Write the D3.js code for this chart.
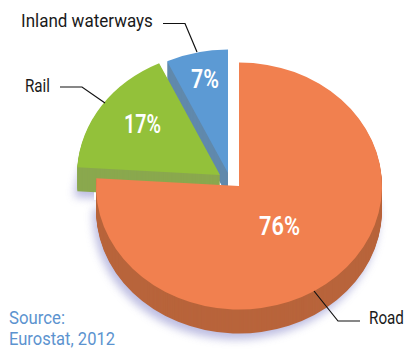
<!DOCTYPE html>
<html>
<head>
<meta charset="utf-8">
<script src="https://cdn.jsdelivr.net/npm/d3@7/dist/d3.min.js"></script>
<style>
  html, body { margin: 0; padding: 0; background: #fff; }
  svg { display: block; }
  text { font-family: Roboto, "Liberation Sans", sans-serif; }
</style>
</head>
<body>
<script>
// Freight transport modal split, Eurostat 2012
const categories = ["Road", "Rail", "Inland waterways"];
const shares = [76, 17, 7];
const faceColours = ["#f1804f", "#93c13a", "#5c9ad4"];
const wallColours = ["#b8643b", "#8aa84e", "#6089ac"];
const sourceLines = ["Source:", "Eurostat, 2012"];

const width = 406, height = 349;
const radius = 143, squash = 0.864, depth = 24;

// Each slice is pulled out from the pie on its own hub
const hubs = [[239, 186], [220, 175], [228, 173]];
// Draw order: back slices first, road last
const drawOrder = [2, 1, 0];

const labelStyle = [
  { text: "76%", x: 259, y: 235, len: 41 },
  { text: "17%", x: 124, y: 132.5, len: 37 },
  { text: "7%", x: 191, y: 88, len: 28 }
];
const leaders = [
  { label: categories[0], pts: [[314, 291], [338, 321], [360, 321]], x: 369, y: 324, len: 35 },
  { label: categories[1], pts: [[105, 103], [82, 87], [60, 87]], x: 25, y: 92, len: 25 },
  { label: categories[2], pts: [[197, 52], [185, 23.5], [163, 23.5]], x: 21, y: 27, len: 132 }
];
const sourceRows = sourceLines.map((text, i) => ({ text, x: 9, y: [324, 344.5][i], len: [56, 106][i] }));

// Squeezes a text horizontally to a set width, giving a condensed look
function condense(sel) {
  sel.attr("transform", function (d) {
    const natural = this.getComputedTextLength();
    return `translate(${d.x},${d.y}) scale(${d.len / natural},1)`;
  });
}

const svg = d3.select("body").append("svg")
  .attr("width", width).attr("height", height);

const defs = svg.append("defs");
defs.append("filter").attr("id", "soft")
  .attr("x", "-20%").attr("y", "-20%").attr("width", "140%").attr("height", "140%")
  .append("feGaussianBlur").attr("stdDeviation", 4.5);

// The shadow stays clear of the gap between the slices
const keep = defs.append("clipPath").attr("id", "shadow-area");
keep.append("rect").attr("x", 0).attr("y", 150).attr("width", 94).attr("height", height - 150);
keep.append("rect").attr("x", 0).attr("y", 200).attr("width", width).attr("height", height - 200);

const pie = d3.pie().sort(null).value(d => d)(shares);
const arc = d3.arc().innerRadius(0).outerRadius(radius);
const place = (i, dy = 0) =>
  `translate(${hubs[i][0]},${hubs[i][1] + dy}) scale(1,${squash})`;

// Soft lavender shadow thrown below and to the left of the solid
const shadow = svg.append("g").attr("clip-path", "url(#shadow-area)")
  .append("g").attr("filter", "url(#soft)").attr("opacity", 0.75);
[0, 1].forEach(i => {
  shadow.append("path")
    .attr("d", arc(pie[i]))
    .attr("fill", "#a8a8d8")
    .attr("transform", `translate(-3,${depth + 6}) ` + place(i));
});

drawOrder.forEach(i => {
  const slice = svg.append("g").attr("class", "slice");
  // Extruded wall: the face repeated downward in the darker tone
  slice.selectAll("path.wall")
    .data(d3.range(depth, 0, -1))
    .join("path")
    .attr("class", "wall")
    .attr("d", arc(pie[i]))
    .attr("fill", wallColours[i])
    .attr("transform", d => place(i, d));
  slice.append("path")
    .attr("class", "face")
    .attr("d", arc(pie[i]))
    .attr("fill", faceColours[i])
    .attr("transform", place(i));
});

// Percent figures on the faces
svg.selectAll("text.pct")
  .data(labelStyle)
  .join("text")
  .attr("class", "pct")
  .attr("font-size", 25).attr("font-weight", 600)
  .attr("fill", "#fff")
  .text(d => d.text)
  .call(condense);

// Leader lines and category names
const line = d3.line();
svg.selectAll("path.leader")
  .data(leaders)
  .join("path")
  .attr("class", "leader")
  .attr("d", d => line(d.pts))
  .attr("fill", "none")
  .attr("stroke", "#111")
  .attr("stroke-width", 1.2);

svg.selectAll("text.name")
  .data(leaders)
  .join("text")
  .attr("class", "name")
  .attr("font-size", 18.5)
  .attr("fill", "#1a1a1a")
  .text(d => d.label)
  .call(condense);

// Source note
svg.selectAll("text.source")
  .data(sourceRows)
  .join("text")
  .attr("class", "source")
  .attr("font-size", 19)
  .attr("fill", "#5c93cf")
  .text(d => d.text)
  .call(condense);
</script>
</body>
</html>
